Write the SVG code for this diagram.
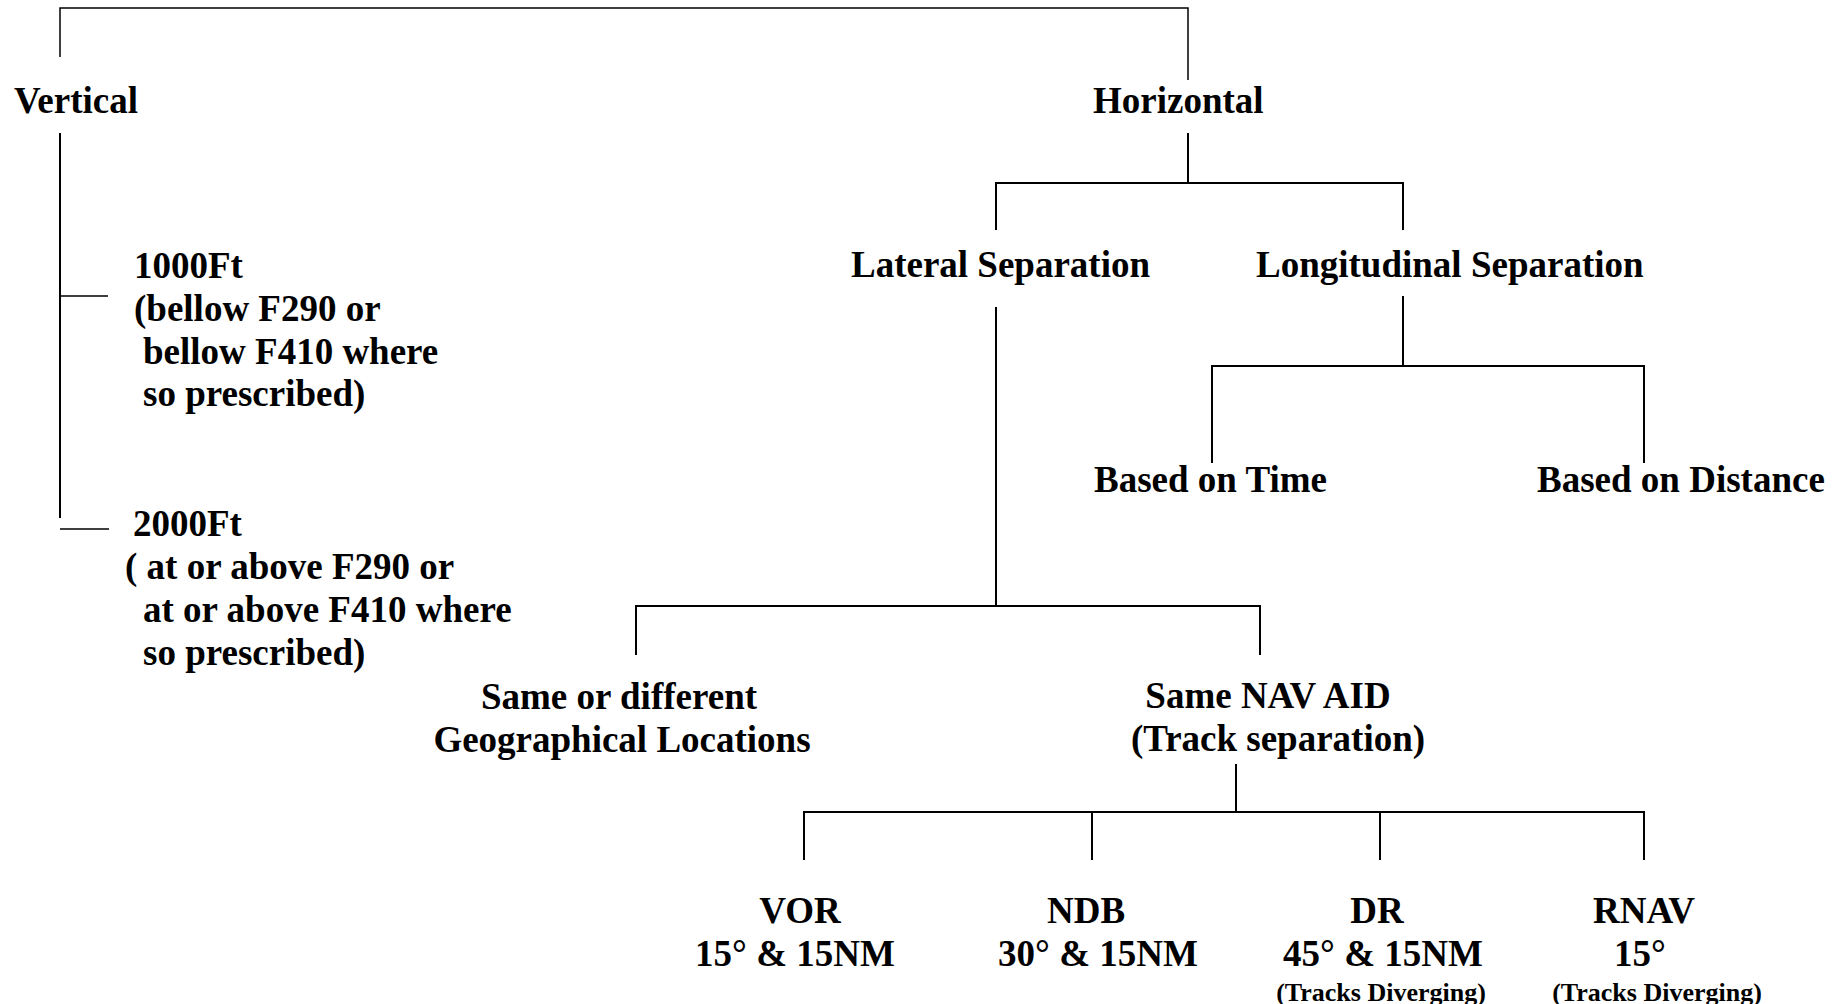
<svg xmlns="http://www.w3.org/2000/svg" width="1844" height="1004" viewBox="0 0 1844 1004">
<style>
.t{font-family:"Liberation Serif","Times New Roman",serif;font-weight:bold;font-size:37px;fill:#000}
.s{font-size:26px}
.m{text-anchor:middle}
.c{fill:none;stroke:#000;stroke-width:2}
.th{stroke-width:1.5}
</style>
<rect width="1844" height="1004" fill="#fff"/>
<g id="connectors">
<path class="c th" d="M60 57V8H1188V80"/>
<path class="c" d="M60 133V518"/>
<path class="c th" d="M60 296H108M60 529H109"/>
<path class="c" d="M1188 133V183M996 230V183H1403V230"/>
<path class="c" d="M996 307V606M636 655V606H1260V655"/>
<path class="c" d="M1403 296V366M1212 463V366H1644V463"/>
<path class="c" d="M1236 764V812M804 860V812H1644V860M1092 812V860M1380 812V860"/>
</g>
<g id="vertical"><text class="t" x="14" y="113">Vertical</text></g>
<g id="horizontal"><text class="t" x="1093" y="113">Horizontal</text></g>
<g id="ft1000">
<text class="t" x="134" y="278">1000Ft</text>
<text class="t" x="134" y="321">(bellow F290 or</text>
<text class="t" x="143" y="364">bellow F410 where</text>
<text class="t" x="143" y="406">so prescribed)</text>
</g>
<g id="ft2000">
<text class="t" x="133" y="536">2000Ft</text>
<text class="t" x="125" y="579">( at or above F290 or</text>
<text class="t" x="143" y="622">at or above F410 where</text>
<text class="t" x="143" y="665">so prescribed)</text>
</g>
<g id="lateral"><text class="t" x="851" y="277">Lateral Separation</text></g>
<g id="longitudinal"><text class="t" x="1256" y="277">Longitudinal Separation</text></g>
<g id="time"><text class="t" x="1094" y="492">Based on Time</text></g>
<g id="distance"><text class="t" x="1537" y="492">Based on Distance</text></g>
<g id="geo">
<text class="t m" x="619" y="709">Same or different</text>
<text class="t m" x="622" y="752">Geographical Locations</text>
</g>
<g id="navaid">
<text class="t m" x="1268" y="708">Same NAV AID</text>
<text class="t m" x="1278" y="751">(Track separation)</text>
</g>
<g id="vor">
<text class="t m" x="800" y="923">VOR</text>
<text class="t m" x="795" y="966">15° &amp; 15NM</text>
</g>
<g id="ndb">
<text class="t m" x="1086" y="923">NDB</text>
<text class="t m" x="1098" y="966">30° &amp; 15NM</text>
</g>
<g id="dr">
<text class="t m" x="1377" y="923">DR</text>
<text class="t m" x="1383" y="966">45° &amp; 15NM</text>
<text class="t s m" x="1381" y="1001">(Tracks Diverging)</text>
</g>
<g id="rnav">
<text class="t m" x="1644" y="923">RNAV</text>
<text class="t m" x="1640" y="966">15°</text>
<text class="t s m" x="1657" y="1001">(Tracks Diverging)</text>
</g>
</svg>
